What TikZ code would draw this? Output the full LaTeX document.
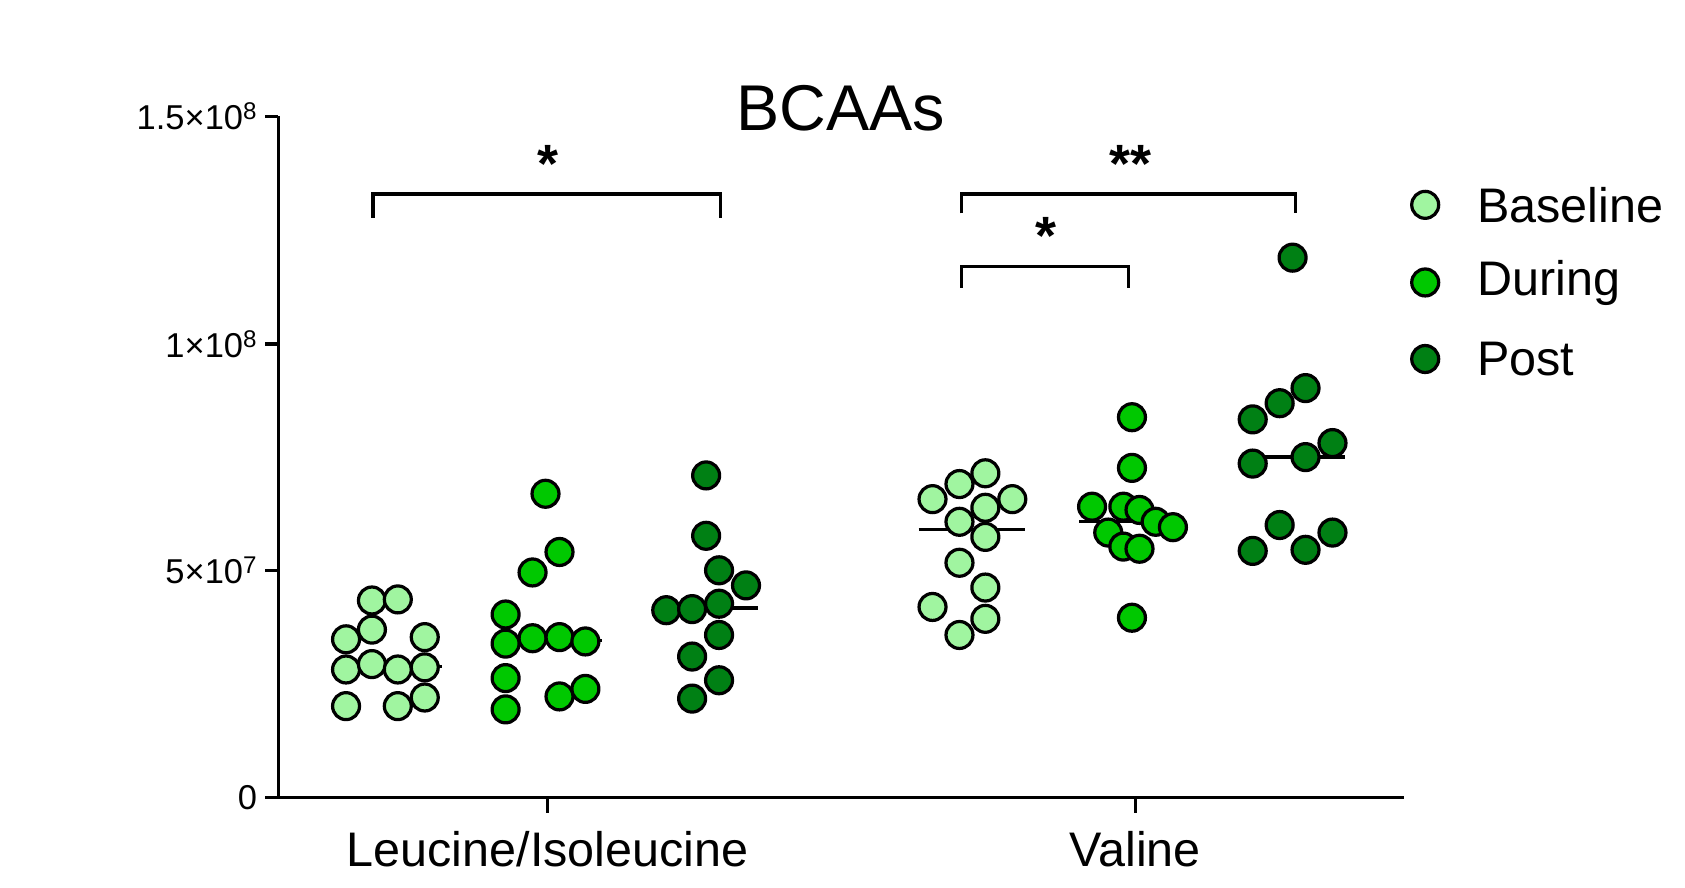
\documentclass[tikz,border=0pt]{standalone}
\usepackage{fontspec}
\setmainfont{Liberation Sans}
\begin{document}
\begin{tikzpicture}[x=1pt,y=-1pt,
  pt/.style={circle,draw=black,line width=3pt,minimum size=25pt,inner sep=0pt},
  bl/.style={pt,fill=basec}, du/.style={pt,fill=durc}, po/.style={pt,fill=postc},
  ax/.style={line width=3pt},
  br/.style={line width=3pt},
  med/.style={line width=3pt},
  tl/.style={font=\fontsize{32}{36}\selectfont,anchor=east,inner sep=0pt},
  lg/.style={font=\fontsize{45}{50}\selectfont,anchor=west,inner sep=0pt},
  st/.style={font=\fontsize{50}{50}\selectfont\bfseries,inner sep=0pt}]
\definecolor{basec}{RGB}{160,245,160}
\definecolor{durc}{RGB}{0,200,0}
\definecolor{postc}{RGB}{0,128,20}
\useasboundingbox (0,0) rectangle (1563,823);
% axes
\coordinate (o) at (258,740);
\coordinate (ytop) at (258,108);
\coordinate (xend) at (1302,740);
\draw[ax] (ytop) -- (o) -- (xend);
\foreach \yy/\lab [count=\i] in {108/{1.5×10\textsuperscript{8}},319/{1×10\textsuperscript{8}},529/{5×10\textsuperscript{7}},740/{0}}{
  \coordinate (t\i) at (258,\yy);
  \draw[ax] (t\i) -- ++(-12,0) node[tl,xshift=-6pt] (tl\i) {\lab};
}
\coordinate (xt1) at (508,740); \coordinate (xt2) at (1053,740);
\draw[ax] (xt1) -- ++(0,14); \draw[ax] (xt2) -- ++(0,14);
\node[font=\fontsize{45}{50}\selectfont] (xl1) at (508,788) {Leucine/Isoleucine};
\node[font=\fontsize{45}{50}\selectfont] (xl2) at (1053,788) {Valine};
\node[font=\fontsize{60}{60}\selectfont] (title) at (780,100) {BCAAs};
% medians
\draw[med] (308,618) -- (410,618);
\draw[med] (455,594) -- (558,594);
\draw[med] (605,564) -- (703,564);
\draw[med] (852,491) -- (951,491);
\draw[med] (1001,484) -- (1100,484);
\draw[med] (1150,424) -- (1248,424);
% points
\foreach \x/\y [count=\i] in {345/557,369/556,321/593,345/584,394/591,321/621,345/616,369/621,394/619,321/655,369/655,394/647}
  \node[bl] (lb\i) at (\x,\y) {};
\foreach \x/\y [count=\i] in {506/458,519/512,494/531,469/570,469/597,494/592,519/591,543/595,469/629,469/658,519/646,543/639}
  \node[du] (ld\i) at (\x,\y) {};
\foreach \x/\y [count=\i] in {655/441,655/497,667/529,692/543,618/566,642/565,667/560,667/589,642/609,667/631,642/648}
  \node[po] (lp\i) at (\x,\y) {};
\foreach \x/\y [count=\i] in {865/463,890/449,914/439,939/463,914/471,890/484,914/498,890/522,914/545,865/563,914/574,890/589}
  \node[bl] (vb\i) at (\x,\y) {};
\foreach \x/\y [count=\i] in {1050/387,1050/434,1013/470,1042/470,1057/473,1072/484,1088/489,1028/494,1042/507,1057/509,1050/573}
  \node[du] (vd\i) at (\x,\y) {};
\foreach \x/\y [count=\i] in {1199/239,1211/360,1187/374,1162/389,1236/411,1211/424,1162/430,1187/487,1236/494,1162/511,1211/510}
  \node[po] (vp\i) at (\x,\y) {};
% brackets
\coordinate (a1) at (346,202); \coordinate (a2) at (668,202);
\draw[br] (a1) |- (507,180) -| (a2);
\node[st] (s1) at (508,152) {*};
\coordinate (b1) at (892,198); \coordinate (b2) at (1202,198);
\draw[br] (b1) |- (1047,180) -| (b2);
\node[st] (s2) at (1049,152) {**};
\coordinate (c1) at (892,267); \coordinate (c2) at (1047,267);
\draw[br] (c1) |- (970,247) -| (c2);
\node[st] (s3) at (970,219) {*};
% legend
\node[bl] (g1) at (1322,190) {}; \node[lg] (gl1) at (1370,190) {Baseline};
\node[du] (g2) at (1322,262) {}; \node[lg] (gl2) at (1370,262) {During};
\node[po] (g3) at (1322,333) {}; \node[lg] (gl3) at (1370,333) {Post};
\end{tikzpicture}
\end{document}
